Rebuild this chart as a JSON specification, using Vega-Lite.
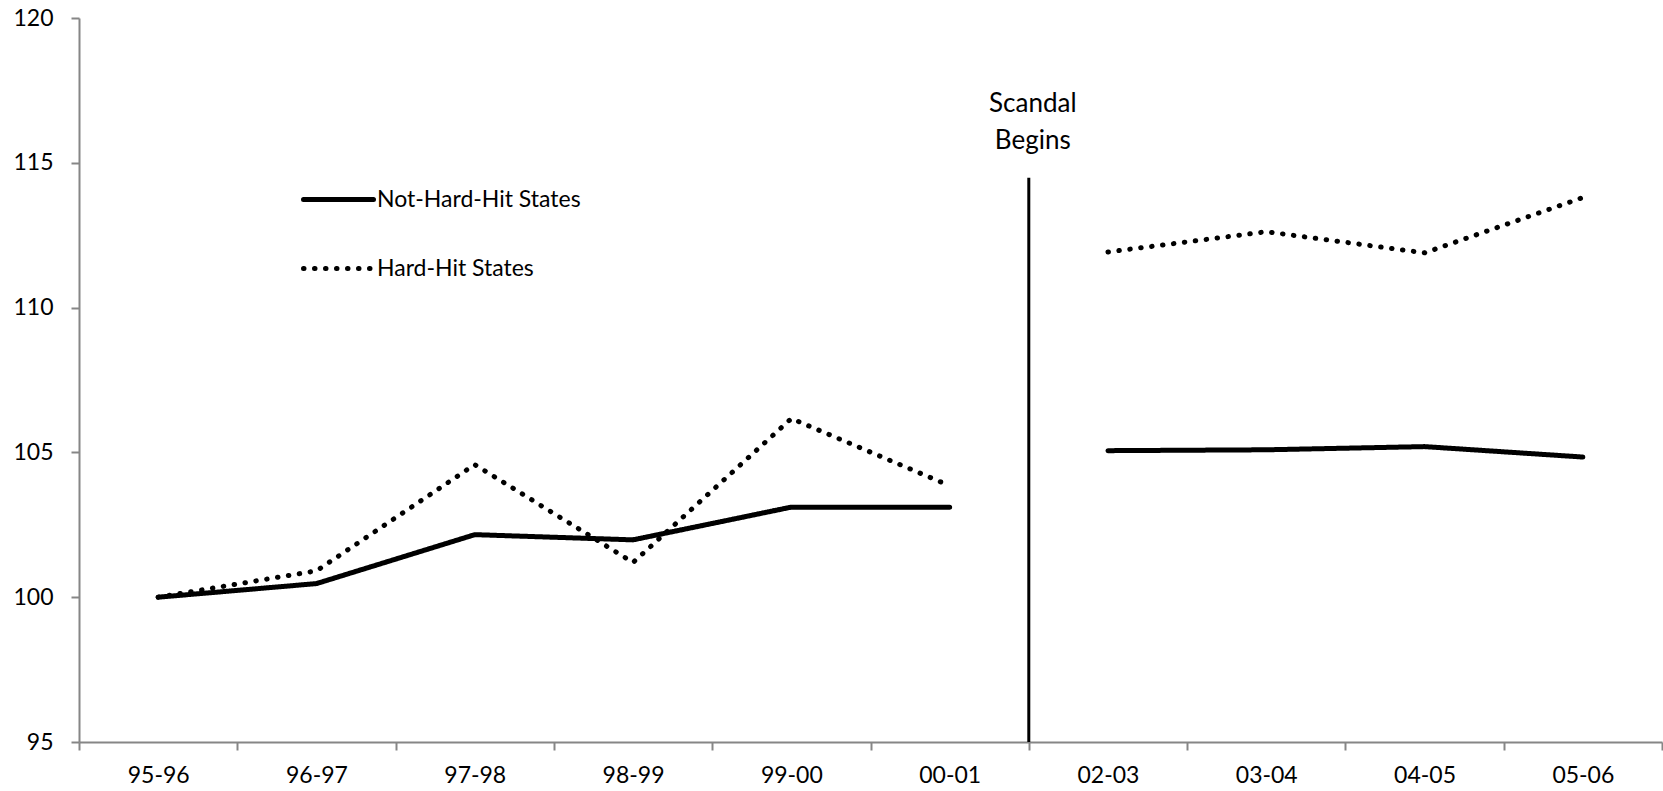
{
  "$schema": "https://vega.github.io/schema/vega-lite/v6.json",
  "width": 1583,
  "height": 724,
  "autosize": {"type": "none"},
  "padding": {"left": 79, "top": 18, "right": 1, "bottom": 49},
  "background": "white",
  "config": {
    "view": {"stroke": null},
    "font": "Lato",
    "axis": {
      "domainColor": "#868686",
      "domainWidth": 2,
      "tickColor": "#868686",
      "tickWidth": 2,
      "labelColor": "black",
      "labelFont": "Lato",
      "labelFontSize": 23,
      "grid": false,
      "title": null
    }
  },
  "datasets": {
    "lines": [
      {"series": "Not-Hard-Hit States", "period": "95-96", "segment": "pre", "value": 100.0},
      {"series": "Not-Hard-Hit States", "period": "96-97", "segment": "pre", "value": 100.47},
      {"series": "Not-Hard-Hit States", "period": "97-98", "segment": "pre", "value": 102.16},
      {"series": "Not-Hard-Hit States", "period": "98-99", "segment": "pre", "value": 101.98},
      {"series": "Not-Hard-Hit States", "period": "99-00", "segment": "pre", "value": 103.11},
      {"series": "Not-Hard-Hit States", "period": "00-01", "segment": "pre", "value": 103.11},
      {"series": "Not-Hard-Hit States", "period": "02-03", "segment": "post", "value": 105.06},
      {"series": "Not-Hard-Hit States", "period": "03-04", "segment": "post", "value": 105.09},
      {"series": "Not-Hard-Hit States", "period": "04-05", "segment": "post", "value": 105.2},
      {"series": "Not-Hard-Hit States", "period": "05-06", "segment": "post", "value": 104.84},
      {"series": "Hard-Hit States", "period": "95-96", "segment": "pre", "value": 100.0},
      {"series": "Hard-Hit States", "period": "96-97", "segment": "pre", "value": 100.91},
      {"series": "Hard-Hit States", "period": "97-98", "segment": "pre", "value": 104.58},
      {"series": "Hard-Hit States", "period": "98-99", "segment": "pre", "value": 101.2},
      {"series": "Hard-Hit States", "period": "99-00", "segment": "pre", "value": 106.17},
      {"series": "Hard-Hit States", "period": "00-01", "segment": "pre", "value": 103.85},
      {"series": "Hard-Hit States", "period": "02-03", "segment": "post", "value": 111.92},
      {"series": "Hard-Hit States", "period": "03-04", "segment": "post", "value": 112.62},
      {"series": "Hard-Hit States", "period": "04-05", "segment": "post", "value": 111.89},
      {"series": "Hard-Hit States", "period": "05-06", "segment": "post", "value": 113.8}
    ],
    "event": [
      {"period": "02-03", "y": 95, "y2": 114.48, "label": "Scandal\nBegins", "ly": 116.76}
    ]
  },
  "layer": [
    {
      "data": {"name": "lines"},
      "mark": {"type": "line", "color": "black", "strokeWidth": 5, "strokeCap": "round", "strokeJoin": "round"},
      "encoding": {
        "x": {
          "field": "period",
          "type": "nominal",
          "bandPosition": 0.5,
          "sort": ["95-96", "96-97", "97-98", "98-99", "99-00", "00-01", "02-03", "03-04", "04-05", "05-06"],
          "scale": {"type": "band", "paddingInner": 0, "paddingOuter": 0, "domain": ["95-96", "96-97", "97-98", "98-99", "99-00", "00-01", "02-03", "03-04", "04-05", "05-06"]},
          "axis": {"tickBand": "extent", "tickSize": 8, "labelPadding": 14, "labelAngle": 0}
        },
        "y": {
          "field": "value",
          "type": "quantitative",
          "scale": {"domain": [95, 120], "nice": false, "zero": false},
          "axis": {"values": [95, 100, 105, 110, 115, 120], "tickSize": 8, "labelPadding": 18}
        },
        "strokeDash": {
          "field": "series",
          "type": "nominal",
          "scale": {"domain": ["Not-Hard-Hit States", "Hard-Hit States"], "range": [[1, 0], [0.5, 10.5]]},
          "legend": {
            "title": null,
            "orient": "none",
            "legendX": 222,
            "legendY": 144,
            "symbolType": "stroke",
            "symbolSize": 4900,
            "symbolStrokeWidth": 5,
            "symbolStrokeColor": "black",
            "labelFontSize": 23,
            "labelFont": "Lato",
            "labelColor": "black",
            "labelOffset": 1,
            "labelLimit": 500,
            "rowPadding": 19,
            "encode": {"symbols": {"update": {"strokeCap": {"value": "round"}}}}
          }
        },
        "detail": {"field": "segment"}
      }
    },
    {
      "data": {"name": "event"},
      "mark": {"type": "rule", "color": "black", "strokeWidth": 3},
      "encoding": {
        "x": {"field": "period", "type": "nominal", "bandPosition": 0},
        "y": {"field": "y", "type": "quantitative"},
        "y2": {"field": "y2"}
      }
    },
    {
      "data": {"name": "event"},
      "mark": {"type": "text", "align": "center", "baseline": "alphabetic", "fontSize": 26, "font": "Lato", "color": "black", "lineBreak": "\n", "lineHeight": 37, "dx": 4},
      "encoding": {
        "x": {"field": "period", "type": "nominal", "bandPosition": 0},
        "y": {"field": "ly", "type": "quantitative"},
        "text": {"field": "label"}
      }
    }
  ]
}
